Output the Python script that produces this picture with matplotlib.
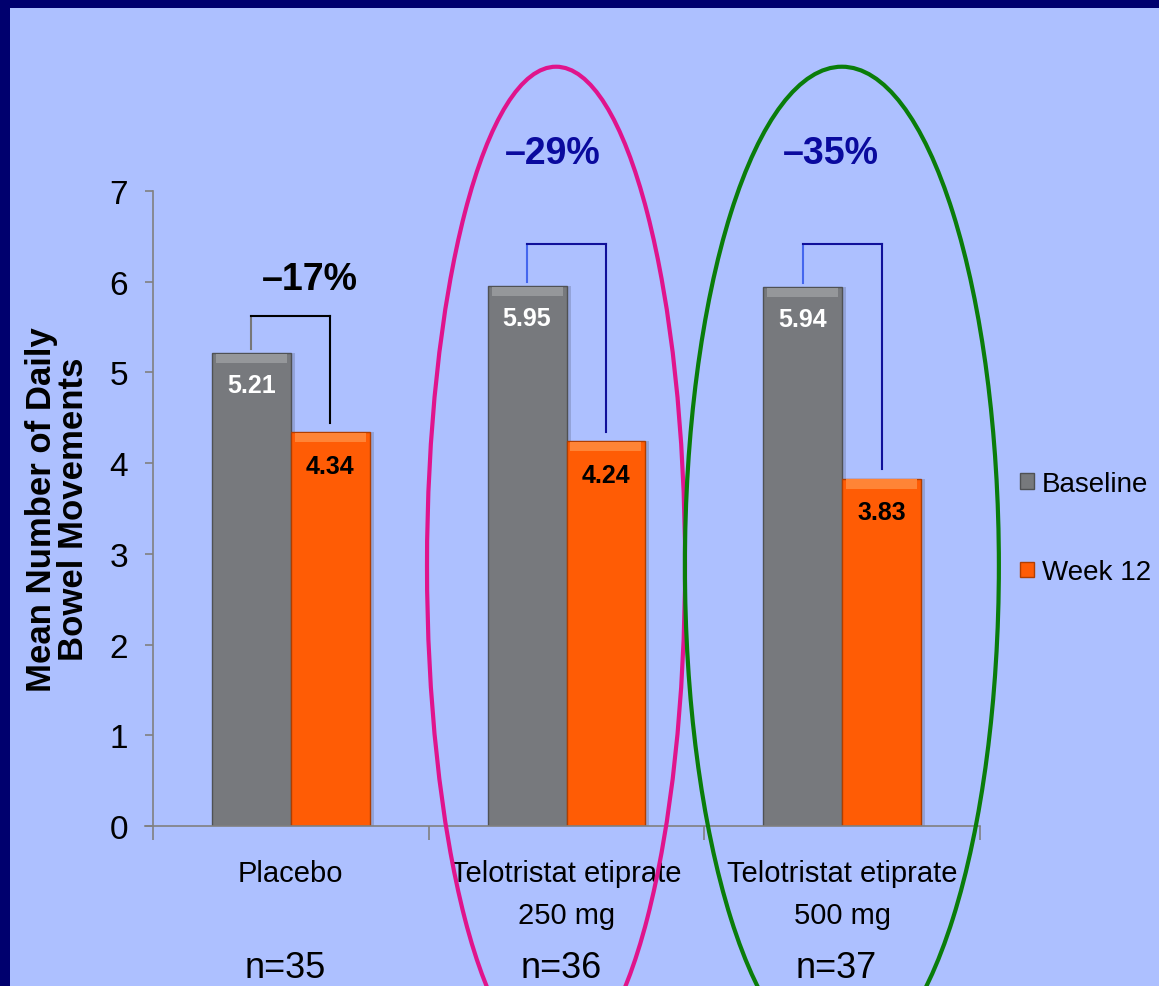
import numpy as np
import matplotlib
matplotlib.use('Agg')
import matplotlib.pyplot as plt
from matplotlib.patches import Rectangle, Ellipse, Patch

# data
groups = ['Placebo', 'Telotristat etiprate\n250 mg', 'Telotristat etiprate\n500 mg']
n_labels = ['n=35', 'n=36', 'n=37']
baseline = [5.21, 5.95, 5.94]
week12 = [4.34, 4.24, 3.83]
pct_labels = ['\u201317%', '\u201329%', '\u201335%']

arial = ['Liberation Sans', 'DejaVu Sans']

grey = '#77797d'
grey_top = '#95979a'
orange = '#ff5c05'
orange_top = '#ff8436'
panel = '#adc0ff'
navy = '#00006e'

fig = plt.figure(figsize=(11.59, 9.87), dpi=100, facecolor=navy)
# light blue slide panel
fig.patches.append(Rectangle((10 / 1159, 0), 1, (987 - 9) / 987, transform=fig.transFigure,
                             facecolor=panel, edgecolor='none', zorder=-5))

ax = fig.add_axes([153 / 1159, 160 / 987, 827 / 1159, 635 / 987])
ax.set_facecolor('none')

x = np.arange(len(groups))
w = 0.286

# soft shadow, bars, and a lighter bevel strip on top
ax.bar(x - w / 2 + 0.015, baseline, w, color='#000000', alpha=0.15, zorder=1)
ax.bar(x + w / 2 + 0.015, week12, w, color='#000000', alpha=0.15, zorder=1)
ax.bar(x - w / 2, baseline, w, color=grey, edgecolor='#4f5154', linewidth=1, zorder=2)
ax.bar(x + w / 2, week12, w, color=orange, edgecolor='#b03e00', linewidth=1, zorder=2)
bev = 0.1
ax.bar(x - w / 2, [bev] * 3, w * 0.9, bottom=np.array(baseline) - bev - 0.01, color=grey_top, zorder=3)
ax.bar(x + w / 2, [bev] * 3, w * 0.9, bottom=np.array(week12) - bev - 0.01, color=orange_top, zorder=3)

# value labels inside bars
for i in range(len(groups)):
    ax.text(x[i] - w / 2, baseline[i] - 0.35, f'{baseline[i]:.2f}', ha='center', va='center',
            color='white', fontsize=18, fontweight='bold', family=arial, zorder=4)
    ax.text(x[i] + w / 2, week12[i] - 0.37, f'{week12[i]:.2f}', ha='center', va='center',
            color='black', fontsize=18, fontweight='bold', family=arial, zorder=4)

# brackets
bracket_top = [5.62, 6.42, 6.42]
left_col = ['#777777', '#4466ee', '#4466ee']
right_col = ['black', '#10109a', '#10109a']
for i in range(len(groups)):
    xl, xr = x[i] - w / 2, x[i] + w / 2
    ax.plot([xl, xl], [baseline[i] + 0.05, bracket_top[i]], color=left_col[i], lw=1.5, zorder=5)
    ax.plot([xl, xr], [bracket_top[i], bracket_top[i]], color=right_col[i], lw=1.5, zorder=5)
    ax.plot([xr, xr], [bracket_top[i], week12[i] + 0.1], color=right_col[i], lw=1.5, zorder=5)

# percent changes
pct_pos = [(0.07, 6.03), (0.95, 7.42), (1.96, 7.42)]
pct_col = ['black', '#0a0a9e', '#0a0a9e']
for (px, py), lab, c in zip(pct_pos, pct_labels, pct_col):
    ax.text(px, py, lab, ha='center', va='center', fontsize=27, fontweight='bold',
            color=c, family=arial, clip_on=False)

# highlight ellipses
ax.add_patch(Ellipse((0.962, 2.87), 0.936, 11.0, fill=False, edgecolor='#e0148c', lw=3, clip_on=False, zorder=6))
ax.add_patch(Ellipse((1.999, 2.87), 1.139, 11.0, fill=False, edgecolor='#0a7d0a', lw=3, clip_on=False, zorder=6))

# axes
ax.set_xlim(-0.5, 2.5)
ax.set_ylim(0, 7)
for s in ['top', 'right']:
    ax.spines[s].set_visible(False)
for s in ['left', 'bottom']:
    ax.spines[s].set_color('#808080')
    ax.spines[s].set_linewidth(1.2)
ax.spines['bottom'].set_bounds(-0.53, 2.5)

ax.set_yticks(range(8))
ax.tick_params(axis='y', direction='out', length=6, width=1.2, color='#808080', pad=12, labelsize=24)
for t in ax.get_yticklabels():
    t.set_family(arial)

ax.set_xticks(x)
ax.set_xticklabels(groups, fontsize=21, family=arial, linespacing=1.62, va='top')
ax.tick_params(axis='x', length=0, pad=24)
ax.set_xticks([-0.5, 0.5, 1.5, 2.5], minor=True)
ax.tick_params(axis='x', which='minor', direction='out', length=10, width=1.2, color='#808080')

for i, lab in enumerate(n_labels):
    ax.text(x[i] - 0.02, -1.56, lab, ha='center', va='center', fontsize=26, family=arial, clip_on=False)

ax.set_ylabel('Mean Number of Daily\nBowel Movements', fontsize=25, fontweight='bold',
              family=arial, linespacing=0.95, labelpad=14)

handles = [Patch(facecolor=grey, edgecolor='#4f5154'), Patch(facecolor=orange, edgecolor='#b03e00')]
fig.legend(handles, ['Baseline', 'Week 12'], loc='upper left', bbox_to_anchor=(1006 / 1159, (987 - 458) / 987),
           frameon=False, prop={'family': arial, 'size': 20}, handlelength=0.5, handleheight=0.5,
           handletextpad=0.3, labelspacing=2.25, borderpad=0)

fig.savefig('out.png', dpi=100, facecolor=fig.get_facecolor())
